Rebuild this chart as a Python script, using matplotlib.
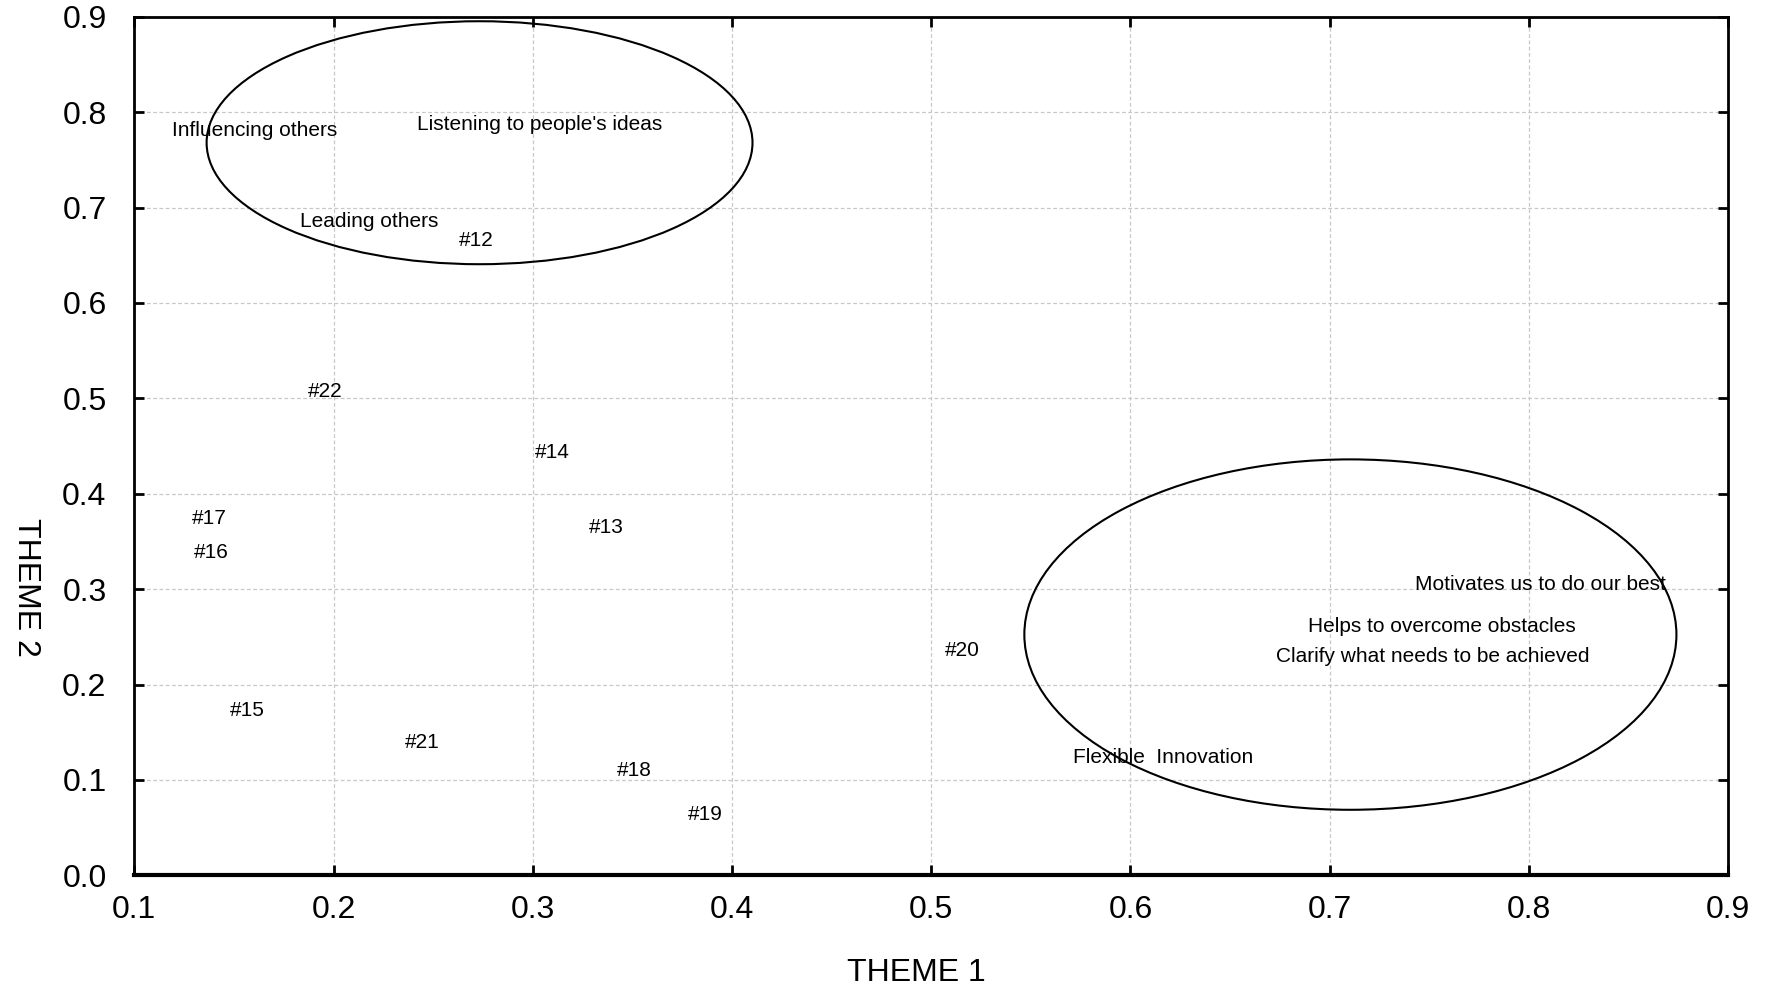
import matplotlib
matplotlib.use("Agg")
import matplotlib.pyplot as plt
from matplotlib.patches import Ellipse

plt.rcParams['font.family'] = ['Liberation Sans', 'DejaVu Sans']

# point labels and their coordinates (theme loadings)
labels = ["Influencing others", "Listening to people's ideas", "Leading others", "#12",
          "#22", "#14", "#17", "#16", "#13",
          "Motivates us to do our best", "Helps to overcome obstacles",
          "Clarify what needs to be achieved", "#20", "#15", "#21",
          "Flexible  Innovation", "#18", "#19"]
theme1 = [0.119, 0.242, 0.183, 0.263,
          0.187, 0.301, 0.129, 0.130, 0.328,
          0.743, 0.689,
          0.673, 0.507, 0.148, 0.236,
          0.571, 0.342, 0.378]
theme2 = [0.781, 0.787, 0.685, 0.666,
          0.507, 0.443, 0.374, 0.338, 0.365,
          0.305, 0.261,
          0.229, 0.236, 0.173, 0.139,
          0.124, 0.110, 0.064]

# cluster ellipses: centre x, centre y, width, height
ell_x = [0.2733, 0.7104]
ell_y = [0.768, 0.2524]
ell_w = [0.274, 0.3273]
ell_h = [0.2547, 0.3673]

fig = plt.figure(figsize=(17.67, 9.88), dpi=100)
ax = fig.add_axes([0.076, 0.114, 0.902, 0.869])

for lab, x, y in zip(labels, theme1, theme2):
    ax.text(x, y, lab, fontsize=15, ha='left', va='center', color='black')

for cx, cy, w, h in zip(ell_x, ell_y, ell_w, ell_h):
    ax.add_patch(Ellipse((cx, cy), w, h, fill=False, edgecolor='black', lw=1.5))

ax.set_xlim(0.1, 0.9)
ax.set_ylim(0.0, 0.9)
ax.set_xticks([0.1, 0.2, 0.3, 0.4, 0.5, 0.6, 0.7, 0.8, 0.9])
ax.set_yticks([0.0, 0.1, 0.2, 0.3, 0.4, 0.5, 0.6, 0.7, 0.8, 0.9])
ax.set_xticklabels(["0.1", "0.2", "0.3", "0.4", "0.5", "0.6", "0.7", "0.8", "0.9"])
ax.set_yticklabels(["0.0", "0.1", "0.2", "0.3", "0.4", "0.5", "0.6", "0.7", "0.8", "0.9"])
ax.tick_params(direction='in', length=7, width=2, labelsize=23,
               top=True, right=True)
ax.tick_params(axis='y', pad=20)
ax.tick_params(axis='x', pad=14)
ax.grid(True, color='#c8c8c8', linestyle=(0, (3, 2)), linewidth=0.9)
ax.set_axisbelow(True)
for s in ax.spines.values():
    s.set_linewidth(2)
ax.spines['bottom'].set_linewidth(3)

ax.set_xlabel("THEME 1", fontsize=23, va='center')
ax.xaxis.set_label_coords(0.491, -0.114)
ax.set_ylabel("THEME 2", fontsize=23, rotation=270, va='center', ha='center')
ax.yaxis.set_label_coords(-0.068, 0.335)

fig.savefig("out.png", dpi=100)
